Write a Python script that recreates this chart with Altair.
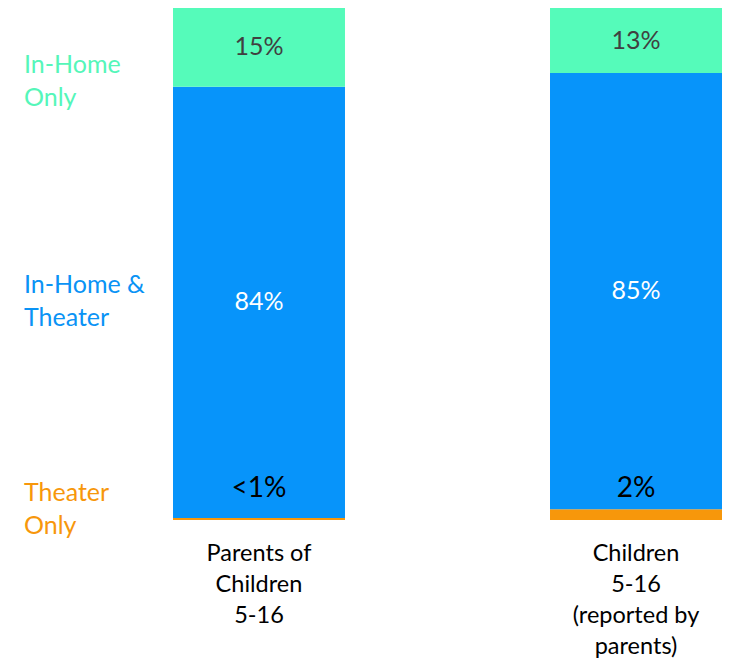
import altair as alt
import pandas as pd

# ---- data ----
groups = ["Parents of|Children|5-16", "Children|5-16|(reported by|parents)"]
segments = ["Theater Only", "In-Home & Theater", "In-Home Only"]
values_parents = [0.4, 84.2, 15.4]
values_children = [2.1, 85.2, 12.7]
labels_parents = ["<1%", "84%", "15%"]
labels_children = ["2%", "85%", "13%"]
seg_colors = ["#F7970B", "#0794FA", "#55FBBA"]
label_colors = ["#000000", "#FFFFFF", "#404040"]
legend_text = ["Theater\nOnly", "In-Home &\nTheater", "In-Home\nOnly"]
legend_colors = ["#F7970B", "#0A93F5", "#55F6B9"]

rows = []
for g, vals, labs in [(groups[0], values_parents, labels_parents),
                      (groups[1], values_children, labels_children)]:
    cum = 0.0
    for i, (s, v, l) in enumerate(zip(segments, vals, labs)):
        rows.append({"group": g, "seg": s, "order": i, "value": v,
                     "label": l, "y0": cum, "y1": cum + v, "mid": cum + v / 2})
        cum += v
df = pd.DataFrame(rows)

FONT = "Lato"

x_enc = alt.X("group:N", sort=groups,
              scale=alt.Scale(paddingInner=0.5438, paddingOuter=0),
              axis=alt.Axis(title=None, domain=False, ticks=False, labelAngle=0,
                            labelExpr="split(datum.label, '|')",
                            labelFontSize=23.5, labelFont=FONT, labelColor="#000000",
                            labelLineHeight=31, labelPadding=33,
                            labelBaseline="middle"))
y_scale = alt.Scale(domain=[0, 100], nice=False)

base = alt.Chart(df)

bars = base.mark_bar().encode(
    x=x_enc,
    y=alt.Y("y0:Q", scale=y_scale, axis=None),
    y2="y1:Q",
    color=alt.Color("seg:N", scale=alt.Scale(domain=segments, range=seg_colors), legend=None),
)

mid_labels = base.transform_filter(alt.datum.order > 0).mark_text(
    font=FONT, fontSize=25, baseline="middle", align="center"
).encode(
    x=alt.X("group:N", sort=groups),
    y=alt.Y("mid:Q", scale=y_scale),
    text="label:N",
    color=alt.Color("seg:N", scale=alt.Scale(domain=segments, range=label_colors), legend=None),
)

bottom_labels = base.transform_filter(alt.datum.order == 0).mark_text(
    font=FONT, fontSize=28, baseline="middle", align="center", dy=-31, color="#000000"
).encode(
    x=alt.X("group:N", sort=groups),
    y=alt.Y("y0:Q", scale=y_scale),
    text="label:N",
)

legend_layers = []
legend_y = [485, 277, 57]
for txt, col, yy in zip(legend_text, legend_colors, legend_y):
    legend_layers.append(
        alt.Chart(pd.DataFrame({"t": [txt]})).mark_text(
            font=FONT, fontSize=25, align="left", baseline="middle",
            lineBreak="\n", lineHeight=33, color=col
        ).encode(x=alt.value(-149), y=alt.value(yy), text="t:N")
    )

chart = alt.layer(bars, mid_labels, bottom_labels, *legend_layers).resolve_scale(
    color="independent"
).properties(
    width=549, height=512,
    padding={"left": 165, "top": 0, "right": 0, "bottom": 140},
    autosize=alt.AutoSizeParams(type="none"),
).configure_view(stroke=None)

chart.save("out.html", embed_options={"renderer": "svg", "actions": False})
